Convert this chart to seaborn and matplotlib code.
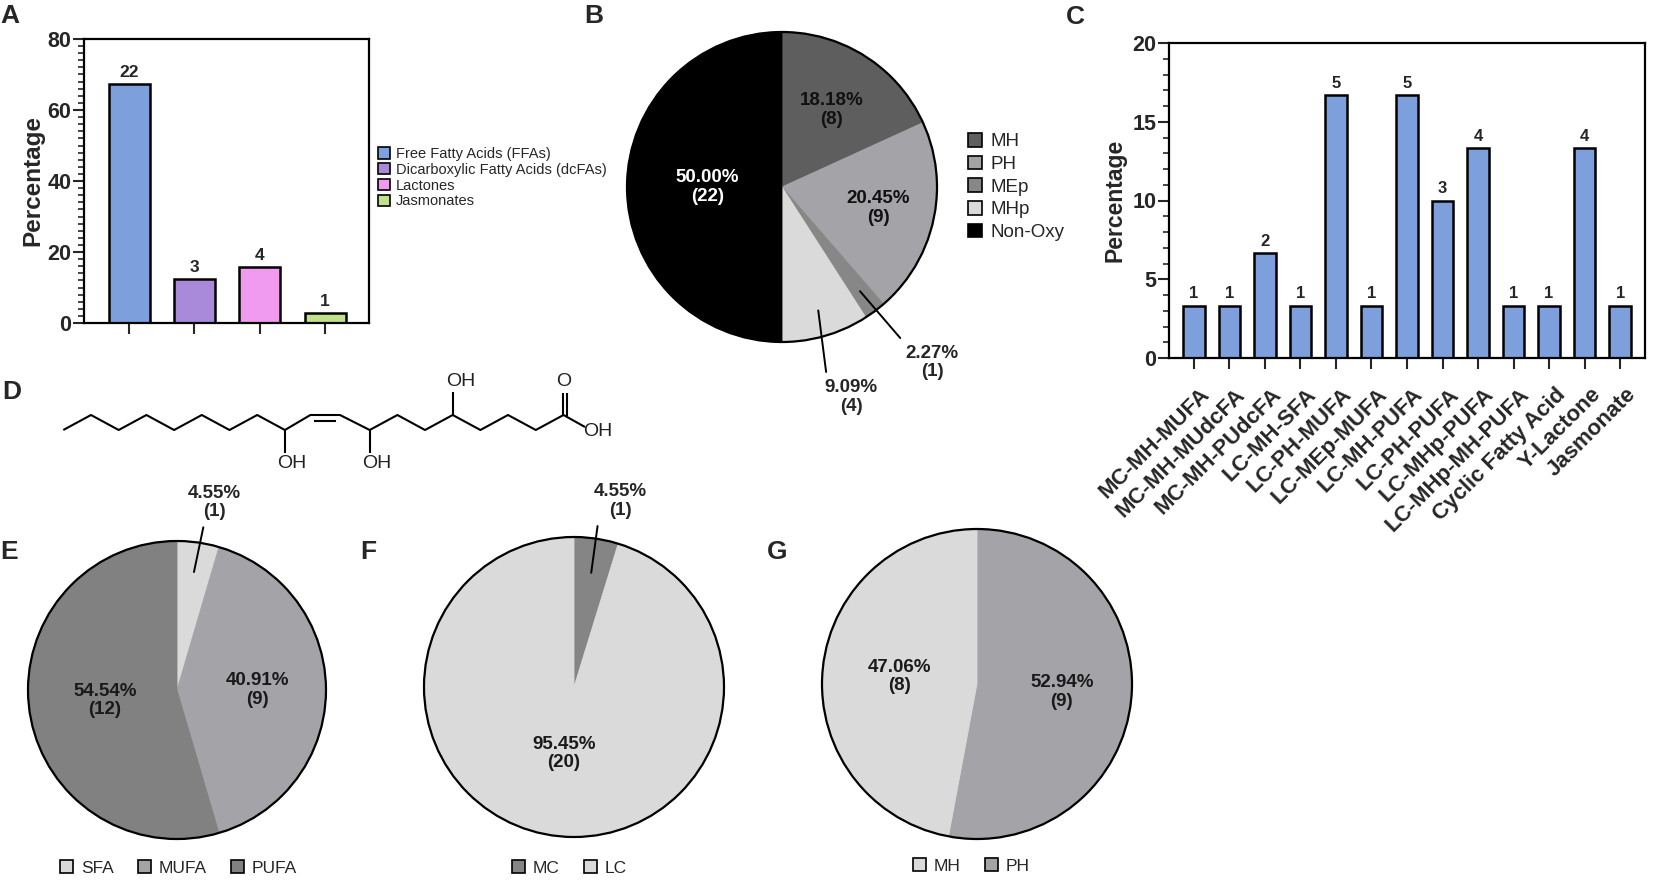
import numpy as np
import pandas as pd
import matplotlib
matplotlib.use("Agg")
import matplotlib.pyplot as plt
import matplotlib.transforms as mtransforms
import seaborn as sns
from matplotlib.patches import Patch, Circle
from matplotlib.ticker import MultipleLocator

# ---- data ----
a_classes = ["Free Fatty Acids (FFAs)", "Dicarboxylic Fatty Acids (dcFAs)", "Lactones", "Jasmonates"]
a_percent = [67.3, 12.4, 15.7, 2.8]
a_counts = [22, 3, 4, 1]
a_colors = ["#7DA0DC", "#A98ADA", "#F09BF0", "#C1E28C"]

b_groups = ["MH", "PH", "MEp", "MHp", "Non-Oxy"]
b_counts = [8, 9, 1, 4, 22]
b_percent = ["18.18%", "20.45%", "2.27%", "9.09%", "50.00%"]
b_colors = ["#5E5E5E", "#A3A3A8", "#878787", "#DADADA", "#000000"]

c_classes = ["MC-MH-MUFA", "MC-MH-MUdcFA", "MC-MH-PUdcFA", "LC-MH-SFA", "LC-PH-MUFA",
             "LC-MEp-MUFA", "LC-MH-PUFA", "LC-PH-PUFA", "LC-MHp-PUFA", "LC-MHp-MH-PUFA",
             "Cyclic Fatty Acid", "Y-Lactone", "Jasmonate"]
c_percent = [3.33, 3.33, 6.67, 3.33, 16.67, 3.33, 16.67, 10.0, 13.33, 3.33, 3.33, 13.33, 3.33]
c_counts = [1, 1, 2, 1, 5, 1, 5, 3, 4, 1, 1, 4, 1]
c_color = "#7DA0DC"

e_groups = ["SFA", "MUFA", "PUFA"]
e_counts = [1, 9, 12]
e_percent = ["4.55%", "40.91%", "54.54%"]
e_colors = ["#DADADA", "#A3A3A8", "#818181"]

f_groups = ["MC", "LC"]
f_counts = [1, 20]
f_percent = ["4.55%", "95.45%"]
f_colors = ["#858585", "#DADADA"]

g_groups = ["PH", "MH"]          # drawn clockwise from the top
g_counts = [9, 8]
g_percent = ["52.94%", "47.06%"]
g_colors = ["#A3A3A8", "#DADADA"]
g_legend = ["MH", "PH"]

sns.set_theme(style="ticks")
plt.rcParams["font.family"] = ["Liberation Sans", "DejaVu Sans"]

W, H = 1653, 885
fig = plt.figure(figsize=(W / 100, H / 100), dpi=100)


def px_axes(x0, y0, x1, y1):
    return fig.add_axes([x0 / W, 1 - y1 / H, (x1 - x0) / W, (y1 - y0) / H])


def fxy(x, y):
    return (x / W, 1 - y / H)


def style_bar_axes(ax):
    for s in ax.spines.values():
        s.set_linewidth(1.6)
        s.set_color("black")
    ax.tick_params(axis="y", which="major", length=8, width=1.5, labelsize=15.5, pad=1)
    ax.tick_params(axis="y", which="minor", length=4, width=1.2)
    ax.tick_params(axis="x", which="major", length=8, width=1.5)
    for t in ax.get_yticklabels():
        t.set_fontweight("bold")
    ax.set_xlabel("")


# ---- panel A ----
axA = px_axes(84, 39, 369, 323)
sns.barplot(x=a_classes, y=a_percent, hue=a_classes, palette=a_colors, saturation=1,
            width=0.63, edgecolor="black", linewidth=1.8, legend=False, ax=axA)
axA.set_xlim(-0.69, 3.67)
axA.set_ylim(0, 80)
axA.yaxis.set_major_locator(MultipleLocator(20))
axA.yaxis.set_minor_locator(MultipleLocator(2))
axA.set_xticks(range(len(a_classes)))
axA.set_xticklabels([])
axA.set_ylabel("Percentage", fontsize=17.5, fontweight="bold", labelpad=2)
for cont, n in zip(axA.containers, a_counts):
    axA.bar_label(cont, labels=[str(n)], padding=3, fontsize=12.5, fontweight="bold")
style_bar_axes(axA)
fig.legend(handles=[Patch(facecolor=c, edgecolor="black", linewidth=1.2, label=l)
                    for c, l in zip(a_colors, a_classes)],
           loc="upper left", bbox_to_anchor=fxy(378, 147), frameon=False, fontsize=10.5,
           handlelength=0.8, handleheight=0.8, handletextpad=0.45, labelspacing=0.12,
           borderpad=0, borderaxespad=0)


# ---- pies ----
def draw_pie(cx, cy, r, counts, colors, texts, dists, text_colors):
    ax = fig.add_axes([(cx - r) / W, 1 - (cy + r) / H, 2 * r / W, 2 * r / H])
    wedges, _ = ax.pie(counts, colors=colors, startangle=90, counterclock=False,
                       radius=1, wedgeprops=dict(linewidth=0.6))
    for w in wedges:
        w.set_edgecolor(w.get_facecolor())
    ax.add_patch(Circle((0, 0), 1, fill=False, lw=1.6, ec="black", clip_on=False))
    ax.set_xlim(-1, 1)
    ax.set_ylim(-1, 1)
    ax.axis("off")
    for w, t, d, col in zip(wedges, texts, dists, text_colors):
        if d is None:
            continue
        ang = np.deg2rad((w.theta1 + w.theta2) / 2)
        ax.text(d * np.cos(ang), d * np.sin(ang), t, ha="center", va="center",
                fontsize=13.5, fontweight="bold", color=col, linespacing=1.1)
    return ax, wedges


def callout(ax, wedge, r_in, text, xytext, relpos):
    ang = np.deg2rad((wedge.theta1 + wedge.theta2) / 2)
    ax.annotate(text, xy=(r_in * np.cos(ang), r_in * np.sin(ang)), xytext=xytext,
                ha="center", va="center", fontsize=13.5, fontweight="bold", linespacing=1.1,
                arrowprops=dict(arrowstyle="-", lw=1.4, color="black", relpos=relpos,
                                shrinkA=3, shrinkB=0))


def pie_legend(ax, labels, colors, x, y, ncol, fontsize=12.5, spacing=0.3, colsp=1.4):
    ax.legend(handles=[Patch(facecolor=c, edgecolor="black", linewidth=1.2, label=l)
                       for c, l in zip(colors, labels)],
              loc="center left", bbox_to_anchor=fxy(x, y), bbox_transform=fig.transFigure,
              ncol=ncol, frameon=False, fontsize=fontsize, handlelength=0.75,
              handleheight=0.75, handletextpad=0.45, labelspacing=spacing,
              columnspacing=colsp, borderpad=0, borderaxespad=0)


b_texts = [f"{p}\n({n})" for p, n in zip(b_percent, b_counts)]
axB, wB = draw_pie(782, 187, 155, b_counts, b_colors, b_texts,
                   [0.59, 0.635, None, None, 0.48], ["#111111", "#111111", "k", "k", "white"])
callout(axB, wB[2], 0.84, b_texts[2], (0.97, -1.13), (0.0, 1.0))
callout(axB, wB[3], 0.83, b_texts[3], (0.445, -1.355), (0.05, 1.0))
pie_legend(axB, b_groups, b_colors, 968, 187, 1, fontsize=13.5, spacing=0.28)

e_texts = [f"{p}\n({n})" for p, n in zip(e_percent, e_counts)]
axE, wE = draw_pie(177, 690, 149, e_counts, e_colors, e_texts, [None, 0.54, 0.49],
                   ["k"] * 3)
callout(axE, wE[0], 0.80, e_texts[0], (0.25, 1.26), (0.33, 0.05))
pie_legend(axE, e_groups, e_colors, 60, 868, 3)

f_texts = [f"{p}\n({n})" for p, n in zip(f_percent, f_counts)]
axF, wF = draw_pie(574, 687, 150, f_counts, f_colors, f_texts, [None, 0.45], ["k"] * 2)
callout(axF, wF[0], 0.77, f_texts[0], (0.307, 1.24), (0.1, 0.05))
pie_legend(axF, f_groups, f_colors, 512, 868, 2)

g_texts = [f"{p}\n({n})" for p, n in zip(g_percent, g_counts)]
axG, wG = draw_pie(977, 684, 155, g_counts, g_colors, g_texts, [0.55, 0.5], ["k"] * 2)
pie_legend(axG, g_legend, g_colors[::-1], 913, 866, 2)

# ---- panel C ----
axC = px_axes(1169, 43, 1645, 358)
sns.barplot(x=c_classes, y=c_percent, color=c_color, saturation=1, width=0.61,
            edgecolor="black", linewidth=1.8, ax=axC)
axC.set_xlim(-0.70, 12.70)
axC.set_ylim(0, 20)
axC.yaxis.set_major_locator(MultipleLocator(5))
axC.yaxis.set_minor_locator(MultipleLocator(1))
axC.set_xticks(range(len(c_classes)))
axC.set_xticklabels(c_classes, rotation=45, ha="right", va="center", rotation_mode="anchor",
                    fontsize=16, fontweight="bold")
axC.set_ylabel("Percentage", fontsize=16.5, fontweight="bold", labelpad=4)
axC.bar_label(axC.containers[0], labels=[str(n) for n in c_counts], padding=3,
              fontsize=12, fontweight="bold")
style_bar_axes(axC)
axC.tick_params(axis="x", pad=16)
shift = mtransforms.ScaledTranslation(0.13, 0, fig.dpi_scale_trans)
for lbl in axC.get_xticklabels():
    lbl.set_transform(lbl.get_transform() + shift)

# ---- panel D: skeletal structure ----
axD = px_axes(0, 360, 620, 490)
axD.set_xlim(0, 620)
axD.set_ylim(490, 360)
axD.axis("off")
lo, hi = 430, 415
xs = [63.3 + 27.7 * k for k in range(9)] + [310.4, 340.0, 369.7, 397.4, 425.0, 452.7,
                                             480.4, 508.0, 535.8, 563.5, 585.0]
ys = [lo if k % 2 == 0 else hi for k in range(9)] + [hi, hi, lo, hi, lo, hi, lo, hi, lo, hi, 427]
lk = dict(color="black", lw=1.5, solid_capstyle="butt")
axD.plot(xs, ys, **lk)
axD.plot([314, 336], [420.5, 420.5], **lk)                 # cis C=C
axD.plot([285.1, 285.1], [430, 453], **lk)
axD.plot([369.7, 369.7], [430, 453], **lk)
axD.plot([452.7, 452.7], [415, 392], **lk)
axD.plot([562.5, 562.5], [415, 393], **lk)                # C=O
axD.plot([567.0, 567.0], [417, 393], **lk)
ohk = dict(fontsize=14, ha="center", va="center", color="#222222")
axD.text(292, 463, "OH", **ohk)
axD.text(377, 463, "OH", **ohk)
axD.text(461, 382, "OH", **ohk)
axD.text(564, 382, "O", **ohk)
axD.text(598, 431, "OH", **ohk)

# ---- panel letters ----
for letter, x, y in [("A", 10, 16), ("B", 594, 16), ("C", 1075, 17), ("D", 12, 392),
                     ("E", 9, 552), ("F", 368, 552), ("G", 777, 552)]:
    fig.text(x / W, 1 - y / H, letter, fontsize=19, fontweight="bold", ha="center", va="center")

fig.savefig("out.png", dpi=100)
